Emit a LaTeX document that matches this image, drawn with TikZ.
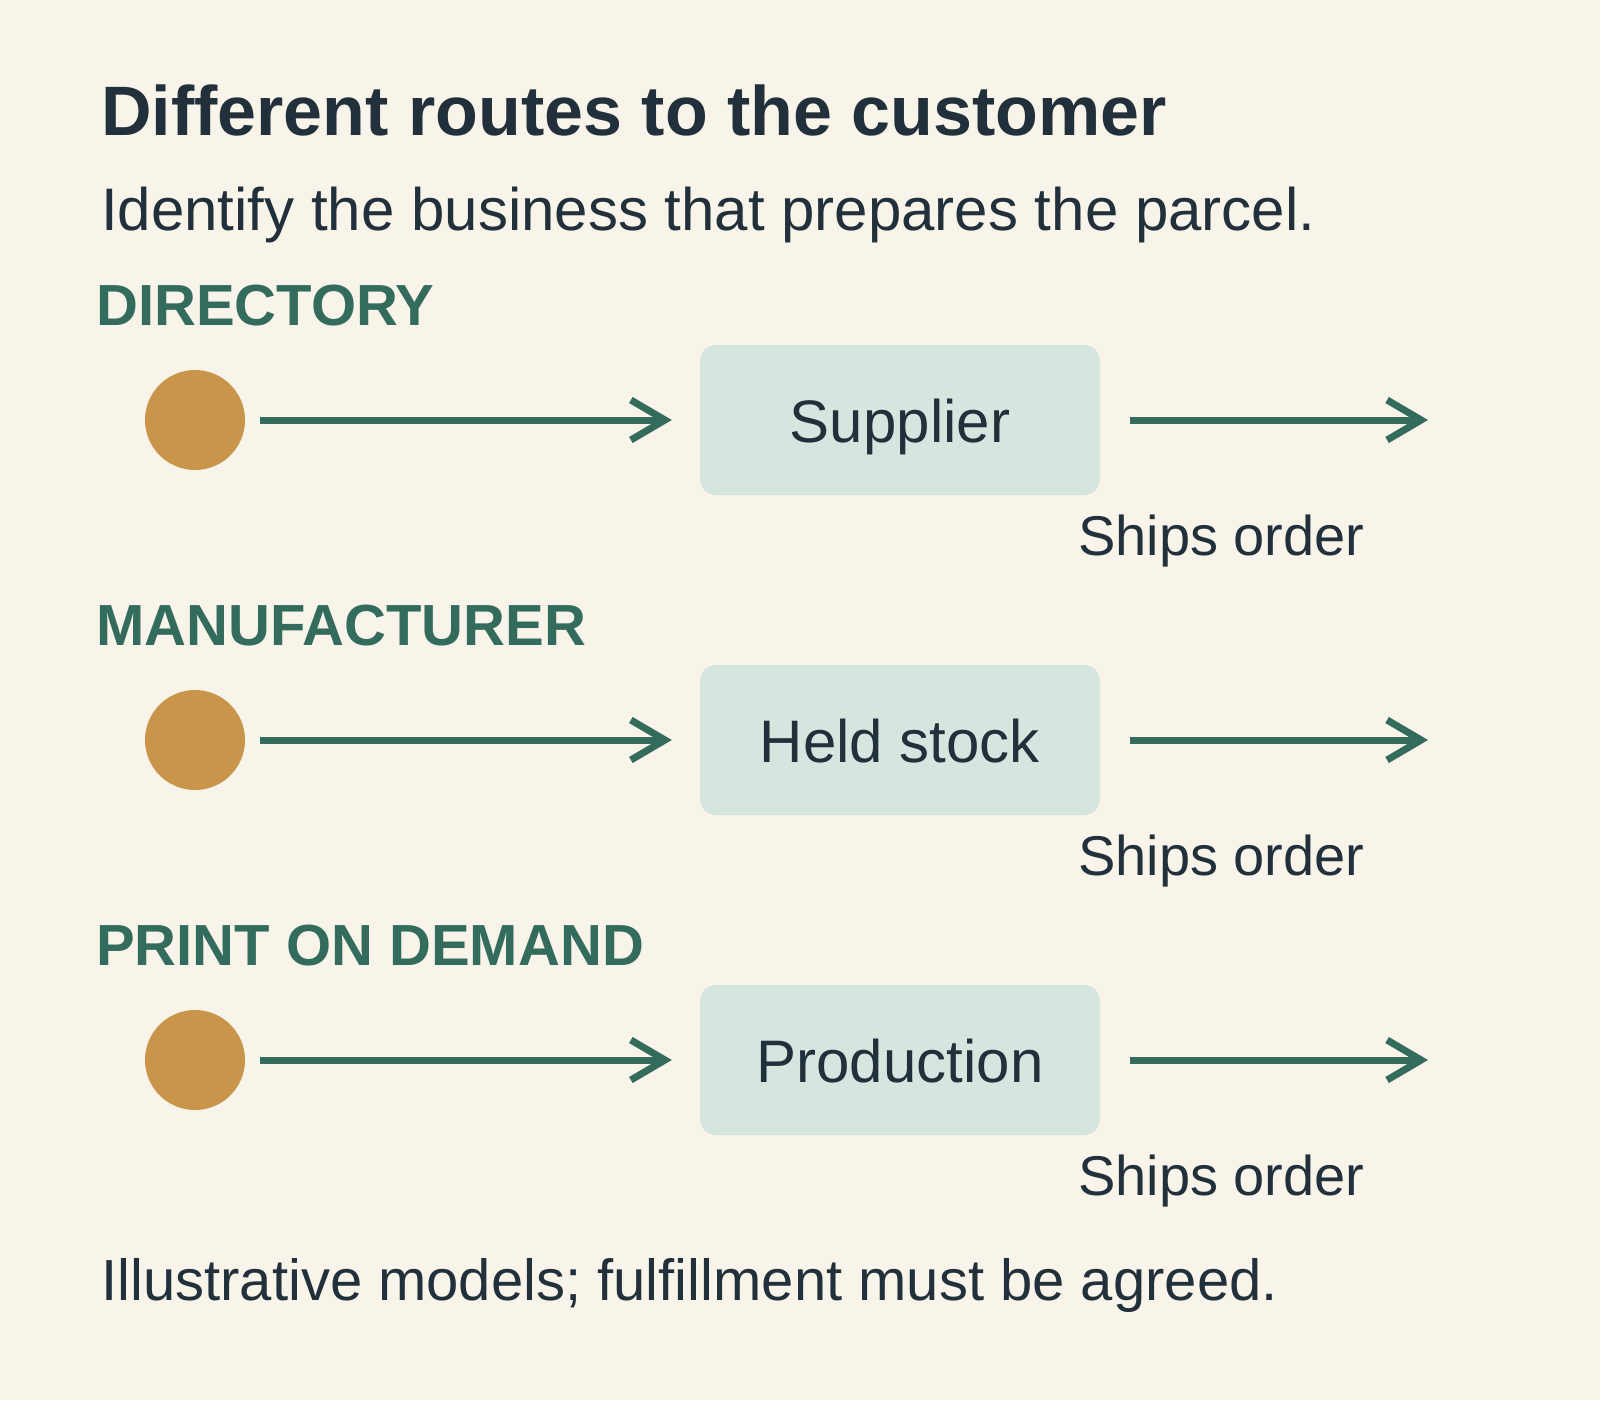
\documentclass[tikz,border=0pt]{standalone}
\usepackage{fontspec}
\setmainfont{Liberation Sans}
\usetikzlibrary{arrows.meta,positioning}
\definecolor{paper}{HTML}{F8F4EA}
\definecolor{ink}{HTML}{21303A}
\definecolor{pine}{HTML}{336B5D}
\definecolor{ochre}{HTML}{C8954A}
\definecolor{mint}{HTML}{D6E6DF}

\begin{document}
\begin{tikzpicture}[x=1pt,y=-1pt,>={Straight Barb[length=34pt,width=40pt]},
  dot/.style={circle,fill=ochre,minimum size=100pt,inner sep=0pt},
  stage/.style={rounded corners=16pt,fill=mint,minimum width=400pt,minimum height=150pt,
    text height=44pt,text depth=0pt,text=ink,font=\fontsize{60}{72}\selectfont},
  flow/.style={->,pine,line width=7pt},
  route/.style={anchor=base west,inner sep=0pt,text=pine,font=\bfseries\fontsize{58}{70}\selectfont},
  note/.style={anchor=base west,inner sep=0pt,text=ink}]
  \fill[paper] (0,0) rectangle (1600,1400);
  \useasboundingbox (0,0) rectangle (1600,1400);
  % heading
  \node[note,font=\bfseries\fontsize{70}{84}\selectfont] (title) at (101,135) {Different routes to the customer};
  \node[note,font=\fontsize{60}{72}\selectfont] (subtitle) at (101,230) {Identify the business that prepares the parcel.};
  % one row per route
  \foreach \name/\routename/\stagename [count=\i] in {dir/DIRECTORY/Supplier,mfr/MANUFACTURER/Held stock,pod/PRINT ON DEMAND/Production}{
    \pgfmathsetmacro\yy{420+320*(\i-1)}
    \node[route] (\name-head) at (96,\yy-95) {\routename};
    \node[dot] (\name-dot) at (195,\yy) {};
    \node[stage] (\name-box) at (900,\yy) {\stagename};
    \coordinate (\name-out) at (1428,\yy);
    \draw[flow,shorten <=15pt,shorten >=28pt] (\name-dot.east) -- (\name-box.west);
    \draw[flow,shorten <=30pt] (\name-box.east) -- (\name-out);
    \node[note,font=\fontsize{56}{67}\selectfont] (\name-ship) at (1078,\yy+135) {Ships order};
  }
  \node[note,font=\fontsize{58}{70}\selectfont] (footer) at (101,1300) {Illustrative models; fulfillment must be agreed.};
\end{tikzpicture}
\end{document}
